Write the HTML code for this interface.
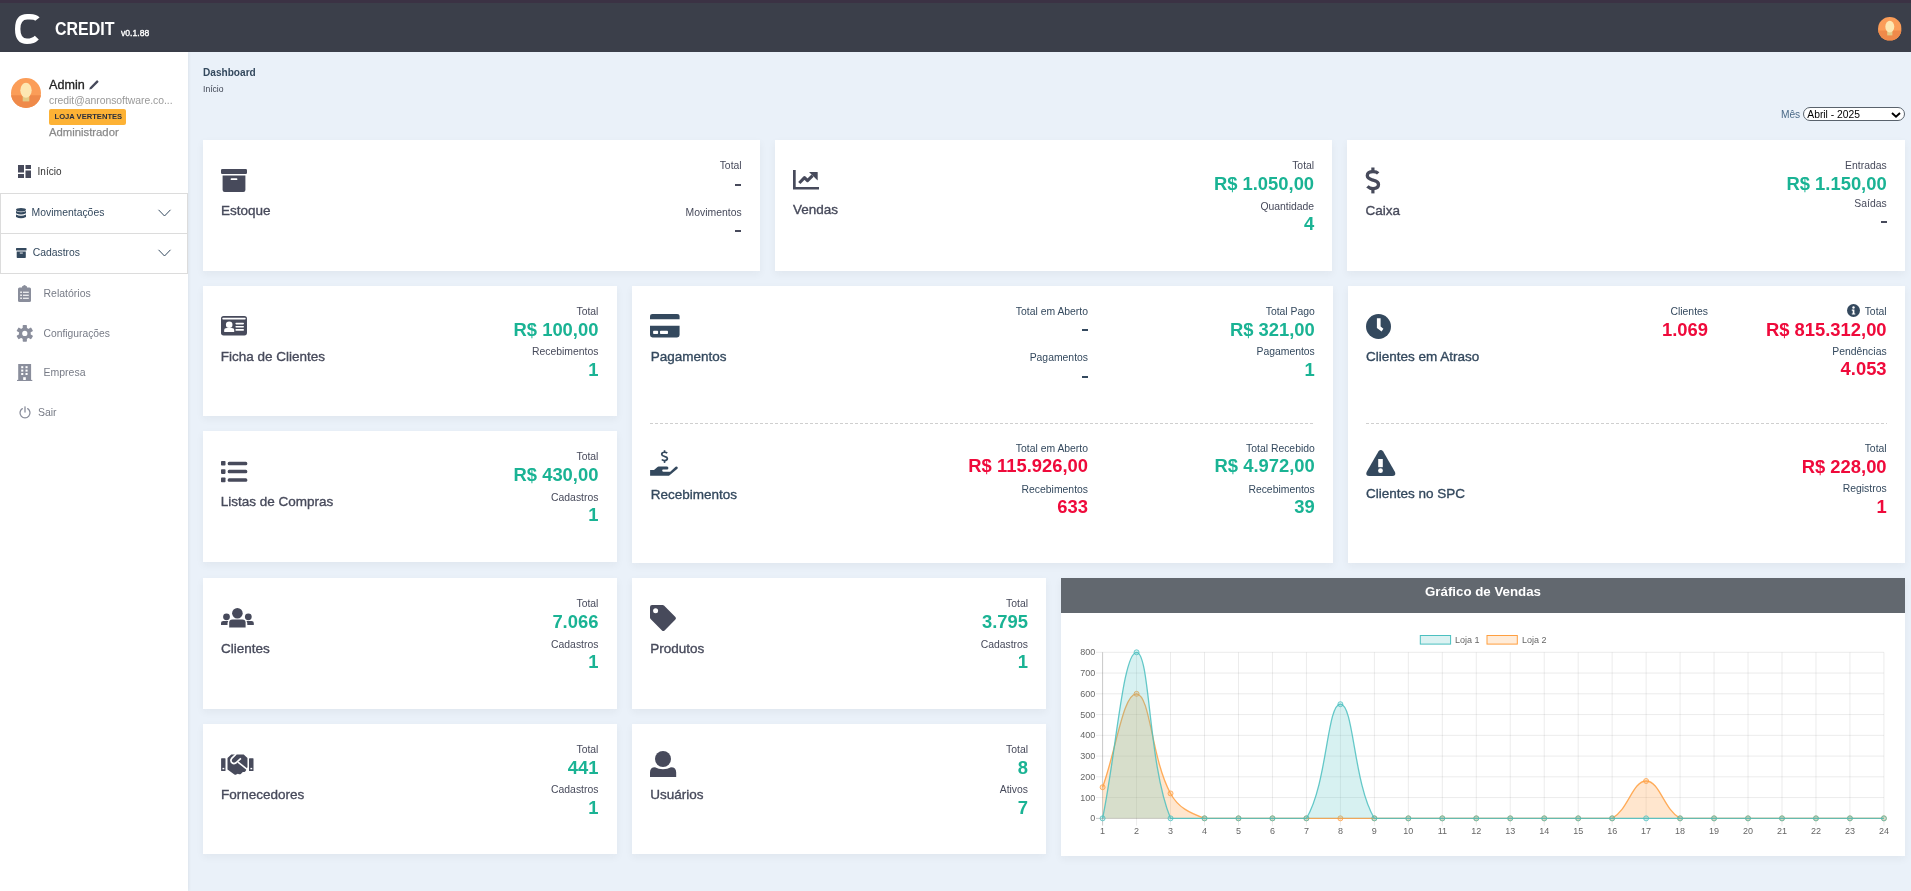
<!DOCTYPE html>
<html><head><meta charset="utf-8"><title>Credit Dashboard</title>
<style>
*{margin:0;padding:0;box-sizing:border-box}
html,body{width:1911px;height:891px;overflow:hidden}
body{position:relative;background:#eaf1f9;font-family:"Liberation Sans",sans-serif}
.t{position:absolute;white-space:nowrap}
.card{position:absolute;background:#fff;box-shadow:0 3px 8px rgba(30,40,40,0.05)}
svg{overflow:visible}
</style></head><body><div style="position:absolute;left:0;top:0;width:1911px;height:891px;will-change:transform">
<div style="position:absolute;left:0px;top:0px;width:1911px;height:52px;background:#3b3f4a;"></div>
<div style="position:absolute;left:0px;top:0px;width:1911px;height:3px;background:#3b3244;"></div>
<svg style="position:absolute;left:0px;top:0px" width="50" height="52" viewBox="0 0 50 52"><path d="M37.4 19.2 C35.2 16.2 31.8 16.8 27.2 16.8 C20.3 16.8 17.7 22 17.7 29 C17.7 36.5 20.6 41.3 27 41.3 C31.6 41.3 34.6 40 36.8 37.6" fill="none" stroke="#fff" stroke-width="5.4"/></svg>
<div class="t" style="left:55px;top:17px;font-size:19px;line-height:24px;color:#fff;font-weight:700;transform:scaleX(0.84);transform-origin:0 0">CREDIT</div>
<div class="t" style="left:121.00px;top:28.00px;font-size:8.6px;line-height:10px;color:#fff;-webkit-text-stroke:0.35px #fff">v0.1.88</div>
<svg style="position:absolute;left:1878.2px;top:16.55px" width="23.6" height="23.6" viewBox="0 0 23.6 23.6"><defs><clipPath id="c1890"><circle cx="11.8" cy="11.8" r="11.8"/></clipPath></defs><g clip-path="url(#c1890)"><rect width="23.6" height="23.6" fill="#fb9d58"/><rect y="13.57" width="23.6" height="23.6" fill="#ef8a4a"/><rect x="9.20" y="12.98" width="5.19" height="5.43" fill="#e3cb86"/><ellipse cx="11.8" cy="9.68" rx="4.48" ry="5.90" fill="#fde7b2"/></g></svg>
<div style="position:absolute;left:0px;top:52px;width:188px;height:839px;background:#fff;box-shadow:1px 0 3px rgba(0,0,0,0.06)"></div>
<svg style="position:absolute;left:11px;top:77.9px" width="30" height="30" viewBox="0 0 30 30"><defs><clipPath id="c26"><circle cx="15" cy="15" r="15"/></clipPath></defs><g clip-path="url(#c26)"><rect width="30" height="30" fill="#fb9d58"/><rect y="17.25" width="30" height="30" fill="#ef8a4a"/><rect x="11.70" y="16.50" width="6.60" height="6.90" fill="#e3cb86"/><ellipse cx="15" cy="12.30" rx="5.70" ry="7.50" fill="#fde7b2"/></g></svg>
<div class="t" style="left:49.00px;top:78.00px;font-size:12.6px;line-height:14px;color:#222;-webkit-text-stroke:0.3px #222">Admin</div>
<svg style="position:absolute;left:89px;top:80px" width="10" height="10" viewBox="0 0 10 10"><path d="M0.3 9.6 L0.8 7.4 L7.6 0.6 Q8.1 0.1 8.6 0.6 L9.3 1.3 Q9.8 1.8 9.3 2.3 L2.5 9.1 Z" fill="#474a5b"/></svg>
<div class="t" style="left:49.00px;top:95.00px;font-size:10.4px;line-height:11px;color:#999;letter-spacing:-0.03px">credit@anronsoftware.co...</div>
<div style="position:absolute;left:49px;top:109px;width:77px;height:16px;background:#fdb235;border-radius:2px"></div>
<div class="t" style="left:54.50px;top:112.00px;font-size:7.6px;line-height:9px;color:#2b2f3d;font-weight:700;">LOJA VERTENTES</div>
<div class="t" style="left:49.00px;top:126.00px;font-size:11.3px;line-height:12px;color:#8a8a8a;-webkit-text-stroke:0.25px #8a8a8a">Administrador</div>
<svg style="position:absolute;left:18px;top:165px" width="13" height="13" viewBox="0 0 13 13"><rect x="0" y="0" width="6" height="7.5" fill="#474a5b"/><rect x="0" y="9" width="6" height="4" fill="#474a5b"/><rect x="7.5" y="0" width="5.5" height="4" fill="#474a5b"/><rect x="7.5" y="5.5" width="5.5" height="7.5" fill="#474a5b"/></svg>
<div class="t" style="left:37.60px;top:166.00px;font-size:10px;line-height:11px;color:#333;">Início</div>
<div style="position:absolute;left:0;top:193px;width:188px;height:81px;border:1px solid #dcdcdc;"></div>
<div style="position:absolute;left:0px;top:233px;width:188px;height:1px;background:#dcdcdc;"></div>
<svg style="position:absolute;left:15.7px;top:207.5px" width="10" height="11" viewBox="0 0 10 11"><ellipse cx="5" cy="1.8" rx="5" ry="1.8" fill="#34495e"/><path d="M0 3 Q5 5.6 10 3 V5.2 Q5 7.8 0 5.2 Z" fill="#34495e"/><path d="M0 6.4 Q5 9 10 6.4 V8.9 Q5 11.6 0 8.9 Z" fill="#34495e"/></svg>
<div class="t" style="left:31.60px;top:207.00px;font-size:10.4px;line-height:11px;color:#34495e;">Movimentações</div>
<svg style="position:absolute;left:158px;top:209px" width="13" height="8" viewBox="0 0 13 8"><path d="M0.5 0.8 L6.5 7 L12.5 0.8" fill="none" stroke="#34495e" stroke-width="1"/></svg>
<svg style="position:absolute;left:16px;top:248px" width="11" height="10" viewBox="0 0 11 10"><rect x="0" y="0" width="10.5" height="2.6" rx="0.5" fill="#34495e"/><path d="M0.7 3.4 H9.8 V9.3 Q9.8 10 9.1 10 H1.4 Q0.7 10 0.7 9.3 Z" fill="#34495e"/><rect x="3.8" y="4.6" width="3" height="0.9" fill="#fff"/></svg>
<div class="t" style="left:32.70px;top:247.00px;font-size:10.4px;line-height:11px;color:#34495e;">Cadastros</div>
<svg style="position:absolute;left:158px;top:249px" width="13" height="8" viewBox="0 0 13 8"><path d="M0.5 0.8 L6.5 7 L12.5 0.8" fill="none" stroke="#34495e" stroke-width="1"/></svg>
<svg style="position:absolute;left:18px;top:285px" width="13" height="17" viewBox="0 0 13 17"><path d="M1.5 2.5 H11.5 Q13 2.5 13 4 V15.5 Q13 17 11.5 17 H1.5 Q0 17 0 15.5 V4 Q0 2.5 1.5 2.5 Z" fill="#8a8e9c"/><path d="M4 1.2 H9 V4 H4 Z" fill="#8a8e9c"/><circle cx="6.5" cy="1.5" r="1.5" fill="#8a8e9c"/><rect x="2.3" y="6.5" width="1.5" height="1.5" fill="#fff"/><rect x="5" y="6.7" width="5.8" height="1.1" fill="#fff"/><rect x="2.3" y="9.5" width="1.5" height="1.5" fill="#fff"/><rect x="5" y="9.7" width="5.8" height="1.1" fill="#fff"/><rect x="2.3" y="12.5" width="1.5" height="1.5" fill="#fff"/><rect x="5" y="12.7" width="5.8" height="1.1" fill="#fff"/></svg>
<div class="t" style="left:43.50px;top:287.00px;font-size:10.5px;line-height:12px;color:#777b86;">Relatórios</div>
<svg style="position:absolute;left:16.6px;top:325.1px" width="16" height="17" viewBox="0 0 16 17"><g transform="translate(7.8,8.4)" fill="#8a8e9c"><rect x="-2.1" y="-8.4" width="4.2" height="4.4" rx="0.7" transform="rotate(0)"/><rect x="-2.1" y="-8.4" width="4.2" height="4.4" rx="0.7" transform="rotate(60)"/><rect x="-2.1" y="-8.4" width="4.2" height="4.4" rx="0.7" transform="rotate(120)"/><rect x="-2.1" y="-8.4" width="4.2" height="4.4" rx="0.7" transform="rotate(180)"/><rect x="-2.1" y="-8.4" width="4.2" height="4.4" rx="0.7" transform="rotate(240)"/><rect x="-2.1" y="-8.4" width="4.2" height="4.4" rx="0.7" transform="rotate(300)"/><circle r="5.9"/></g><circle cx="7.8" cy="8.4" r="2.6" fill="#fff"/></svg>
<div class="t" style="left:43.50px;top:328.00px;font-size:10.3px;line-height:11px;color:#777b86;">Configurações</div>
<svg style="position:absolute;left:16.8px;top:363.8px" width="15.3" height="17" viewBox="0 0 15.3 17"><rect x="1.2" y="0" width="12.9" height="16.4" fill="#8a8e9c"/><rect x="0" y="15.9" width="15.3" height="1.1" fill="#8a8e9c"/><rect x="4.2" y="2.2" width="2.1" height="2" fill="#fff"/><rect x="4.2" y="5.6" width="2.1" height="2" fill="#fff"/><rect x="4.2" y="9.0" width="2.1" height="2" fill="#fff"/><rect x="8.5" y="2.2" width="2.1" height="2" fill="#fff"/><rect x="8.5" y="5.6" width="2.1" height="2" fill="#fff"/><rect x="8.5" y="9.0" width="2.1" height="2" fill="#fff"/><rect x="6.2" y="13.2" width="2.6" height="2.8" fill="#fff"/></svg>
<div class="t" style="left:43.50px;top:366.00px;font-size:10.5px;line-height:12px;color:#777b86;">Empresa</div>
<svg style="position:absolute;left:18.5px;top:406px" width="12" height="12.5" viewBox="0 0 12 12.5"><path d="M3.3 2.6 A5 5 0 1 0 8.7 2.6" fill="none" stroke="#8a8e9c" stroke-width="1.3" stroke-linecap="round"/><line x1="6" y1="0.8" x2="6" y2="6" stroke="#8a8e9c" stroke-width="1.3" stroke-linecap="round"/></svg>
<div class="t" style="left:37.90px;top:406.00px;font-size:10.5px;line-height:12px;color:#777b86;">Sair</div>
<div class="t" style="left:203.00px;top:67.00px;font-size:10.1px;line-height:11px;color:#34495e;font-weight:700;">Dashboard</div>
<div class="t" style="left:203.00px;top:84.00px;font-size:8.6px;line-height:10px;color:#3f4553;">Início</div>
<div class="t" style="left:1780.90px;top:109.00px;font-size:10.2px;line-height:11px;color:#4b6a88;">Mês</div>
<div style="position:absolute;left:1803px;top:107px;width:102px;height:14px;border:1px solid #59626c;border-radius:7px;background:#fff"></div>
<div class="t" style="left:1807.30px;top:109.00px;font-size:10.3px;line-height:11px;color:#000;">Abril - 2025</div>
<svg style="position:absolute;left:1891px;top:111.5px" width="10" height="6" viewBox="0 0 10 6"><path d="M1 1 L5 4.8 L9 1" fill="none" stroke="#000" stroke-width="1.9"/></svg>
<div class="card" style="left:203px;top:140px;width:557px;height:131px"></div>
<div class="card" style="left:775px;top:140px;width:557px;height:131px"></div>
<div class="card" style="left:1347px;top:140px;width:558px;height:131px"></div>
<svg style="position:absolute;left:220.5px;top:168.5px" width="26.5" height="23.5" viewBox="0 0 26.5 23.5"><rect x="0" y="0" width="26" height="5" rx="1.2" fill="#474a5b"/><path d="M1.6 6.5 H24.4 V21 Q24.4 23 22.4 23 H3.6 Q1.6 23 1.6 21 Z" fill="#474a5b"/><rect x="9.6" y="9.3" width="6.8" height="1.8" rx="0.9" fill="#fff"/></svg>
<div class="t" style="left:221.00px;top:203.00px;font-size:13.5px;line-height:15px;color:#474a5b;-webkit-text-stroke:0.35px currentColor">Estoque</div>
<div class="t" style="right:1169.40px;text-align:right;top:160.00px;font-size:10.4px;line-height:11px;color:#474a5b;">Total</div>
<div style="position:absolute;left:735.2px;top:183.9px;width:5.8px;height:2.2px;background:#474a5b;"></div>
<div class="t" style="right:1169.40px;text-align:right;top:207.00px;font-size:10.4px;line-height:11px;color:#474a5b;">Movimentos</div>
<div style="position:absolute;left:735.2px;top:229.9px;width:5.8px;height:2.2px;background:#474a5b;"></div>
<svg style="position:absolute;left:793px;top:170px" width="26" height="20" viewBox="0 0 26 20"><path d="M0 0 H2.7 V17 H26 V19.6 H0 Z" fill="#474a5b"/><path d="M6.3 13 L11.5 7.6 L14.5 10.6 L19.6 5.6" fill="none" stroke="#474a5b" stroke-width="3.1" stroke-linejoin="round"/><path d="M16.2 2.2 Q16.2 1.9 16.6 1.9 H24.2 Q24.7 1.9 24.7 2.4 V10 Q24.7 10.4 24.4 10.2 Z" fill="#474a5b"/></svg>
<div class="t" style="left:793.00px;top:202.00px;font-size:13.5px;line-height:15px;color:#474a5b;-webkit-text-stroke:0.35px currentColor">Vendas</div>
<div class="t" style="right:596.90px;text-align:right;top:160.00px;font-size:10.4px;line-height:11px;color:#474a5b;">Total</div>
<div class="t" style="right:596.90px;text-align:right;top:173.00px;font-size:18.4px;line-height:21px;color:#1ab394;font-weight:700;">R$ 1.050,00</div>
<div class="t" style="right:596.90px;text-align:right;top:201.00px;font-size:10.4px;line-height:11px;color:#474a5b;">Quantidade</div>
<div class="t" style="right:596.90px;text-align:right;top:213.00px;font-size:18.4px;line-height:21px;color:#1ab394;font-weight:700;">4</div>
<svg style="position:absolute;left:1365px;top:166.5px" width="16" height="27" viewBox="0 0 16 27"><path d="M13.2 6.4 Q11.5 4.6 8 4.6 Q2.3 4.6 2.3 8.6 Q2.3 11.6 7 12.8 L9 13.4 Q13.5 14.6 13.5 17.6 Q13.5 21.6 8 21.6 Q4.6 21.6 2.4 19.4" fill="none" stroke="#474a5b" stroke-width="3.3"/><rect x="6.3" y="0.5" width="3.2" height="5" fill="#474a5b"/><rect x="6.3" y="21" width="3.2" height="5.4" fill="#474a5b"/></svg>
<div class="t" style="left:1365.50px;top:203.00px;font-size:13.5px;line-height:15px;color:#474a5b;-webkit-text-stroke:0.35px currentColor">Caixa</div>
<div class="t" style="right:24.30px;text-align:right;top:160.00px;font-size:10.4px;line-height:11px;color:#474a5b;">Entradas</div>
<div class="t" style="right:24.30px;text-align:right;top:173.00px;font-size:18.4px;line-height:21px;color:#1ab394;font-weight:700;">R$ 1.150,00</div>
<div class="t" style="right:24.30px;text-align:right;top:198.00px;font-size:10.4px;line-height:11px;color:#474a5b;">Saídas</div>
<div style="position:absolute;left:1880.8px;top:220.8px;width:5.8px;height:2.2px;background:#474a5b;"></div>
<div class="card" style="left:203px;top:286px;width:414px;height:130px"></div>
<div class="card" style="left:203px;top:431px;width:414px;height:131px"></div>
<div class="card" style="left:632px;top:286px;width:701px;height:277px"></div>
<div class="card" style="left:1348px;top:286px;width:557px;height:277px"></div>
<svg style="position:absolute;left:220.5px;top:316.3px" width="26.2" height="19.5" viewBox="0 0 26.2 19.5"><rect x="0" y="0" width="26" height="19.4" rx="2.6" fill="#474a5b"/><rect x="1.3" y="1.7" width="23.4" height="1.9" rx="0.8" fill="#fff"/><circle cx="8.2" cy="8.7" r="3.3" fill="#fff"/><path d="M3.2 16 V14.3 Q3.2 12 5.8 12 H10.6 Q13.2 12 13.2 14.3 V16 Z" fill="#fff"/><rect x="14.4" y="6.7" width="8.6" height="1.7" rx="0.8" fill="#fff"/><rect x="14.4" y="9.9" width="8.6" height="1.7" rx="0.8" fill="#fff"/><rect x="14.4" y="13.1" width="8.6" height="1.7" rx="0.8" fill="#fff"/></svg>
<div class="t" style="left:220.70px;top:349.00px;font-size:13.5px;line-height:15px;color:#474a5b;-webkit-text-stroke:0.35px currentColor">Ficha de Clientes</div>
<div class="t" style="right:1312.60px;text-align:right;top:306.00px;font-size:10.4px;line-height:11px;color:#474a5b;">Total</div>
<div class="t" style="right:1312.60px;text-align:right;top:319.00px;font-size:18.4px;line-height:21px;color:#1ab394;font-weight:700;">R$ 100,00</div>
<div class="t" style="right:1312.60px;text-align:right;top:346.00px;font-size:10.4px;line-height:11px;color:#474a5b;">Recebimentos</div>
<div class="t" style="right:1312.60px;text-align:right;top:359.00px;font-size:18.4px;line-height:21px;color:#1ab394;font-weight:700;">1</div>
<svg style="position:absolute;left:220.5px;top:460.5px" width="26.5" height="21.5" viewBox="0 0 26.5 21.5"><rect x="0" y="0" width="4.5" height="4.5" rx="0.8" fill="#474a5b"/><rect x="0" y="8.2" width="4.5" height="4.7" rx="0.8" fill="#474a5b"/><rect x="0" y="16.5" width="4.5" height="4.7" rx="0.8" fill="#474a5b"/><rect x="6.7" y="0.7" width="19.6" height="3.5" rx="1.5" fill="#474a5b"/><rect x="6.7" y="8.7" width="19.6" height="3.6" rx="1.5" fill="#474a5b"/><rect x="6.7" y="17.2" width="19.6" height="3.5" rx="1.5" fill="#474a5b"/></svg>
<div class="t" style="left:220.70px;top:494.00px;font-size:13.5px;line-height:15px;color:#474a5b;-webkit-text-stroke:0.35px currentColor">Listas de Compras</div>
<div class="t" style="right:1312.60px;text-align:right;top:451.00px;font-size:10.4px;line-height:11px;color:#474a5b;">Total</div>
<div class="t" style="right:1312.60px;text-align:right;top:464.00px;font-size:18.4px;line-height:21px;color:#1ab394;font-weight:700;">R$ 430,00</div>
<div class="t" style="right:1312.60px;text-align:right;top:492.00px;font-size:10.4px;line-height:11px;color:#474a5b;">Cadastros</div>
<div class="t" style="right:1312.60px;text-align:right;top:504.00px;font-size:18.4px;line-height:21px;color:#1ab394;font-weight:700;">1</div>
<svg style="position:absolute;left:650px;top:314.3px" width="29.6" height="23.4" viewBox="0 0 29.6 23.4"><path d="M2.5 0 H27.1 Q29.6 0 29.6 2.5 V5.3 H0 V2.5 Q0 0 2.5 0 Z" fill="#34495e"/><path d="M0 11.7 H29.6 V21 Q29.6 23.4 27.1 23.4 H2.5 Q0 23.4 0 21 Z" fill="#34495e"/><rect x="3.1" y="16.7" width="5" height="3.4" rx="0.8" fill="#fff"/><rect x="10" y="16.7" width="8" height="3.4" rx="0.8" fill="#fff"/></svg>
<div class="t" style="left:650.80px;top:349.00px;font-size:13.5px;line-height:15px;color:#34495e;-webkit-text-stroke:0.35px currentColor">Pagamentos</div>
<div class="t" style="right:823.00px;text-align:right;top:306.00px;font-size:10.4px;line-height:11px;color:#34495e;">Total em Aberto</div>
<div style="position:absolute;left:1082px;top:329.2px;width:5.8px;height:2.2px;background:#34495e;"></div>
<div class="t" style="right:823.00px;text-align:right;top:352.00px;font-size:10.4px;line-height:11px;color:#34495e;">Pagamentos</div>
<div style="position:absolute;left:1082px;top:375.6px;width:5.8px;height:2.2px;background:#34495e;"></div>
<div class="t" style="right:596.20px;text-align:right;top:306.00px;font-size:10.4px;line-height:11px;color:#34495e;">Total Pago</div>
<div class="t" style="right:596.20px;text-align:right;top:319.00px;font-size:18.4px;line-height:21px;color:#1ab394;font-weight:700;">R$ 321,00</div>
<div class="t" style="right:596.20px;text-align:right;top:346.00px;font-size:10.4px;line-height:11px;color:#34495e;">Pagamentos</div>
<div class="t" style="right:596.20px;text-align:right;top:359.00px;font-size:18.4px;line-height:21px;color:#1ab394;font-weight:700;">1</div>
<svg style="position:absolute;left:650px;top:423px" width="665" height="1" viewBox="0 0 665 1"><line x1="0" y1="0.5" x2="665" y2="0.5" stroke="#cfcfcf" stroke-width="1" stroke-dasharray="3 2"/></svg>
<svg style="position:absolute;left:650px;top:450px" width="28" height="26" viewBox="0 0 28 26"><g transform="translate(10.6,0) scale(0.5,0.49)"><path d="M13.2 6.4 Q11.5 4.6 8 4.6 Q2.3 4.6 2.3 8.6 Q2.3 11.6 7 12.8 L9 13.4 Q13.5 14.6 13.5 17.6 Q13.5 21.6 8 21.6 Q4.6 21.6 2.4 19.4" fill="none" stroke="#34495e" stroke-width="3.5"/><rect x="6.3" y="0.5" width="3.2" height="5" fill="#34495e"/><rect x="6.3" y="21" width="3.2" height="5.4" fill="#34495e"/></g><path d="M0.1 20 H4 L7.2 17.2 Q7.9 16.4 8.8 16.4 H17 Q18.4 16.4 18.4 18 Q18.4 19.6 17 19.6 H13 Q12.2 19.6 12.2 20.7 Q12.4 21.7 13.5 21.7 H20.2 L25.6 16.8 Q26.6 16 27.5 16.9 Q28.2 17.8 27.4 18.7 L19 25.85 H0.1 Z" fill="#34495e"/></svg>
<div class="t" style="left:650.80px;top:487.00px;font-size:13.5px;line-height:15px;color:#34495e;-webkit-text-stroke:0.35px currentColor">Recebimentos</div>
<div class="t" style="right:823.00px;text-align:right;top:443.00px;font-size:10.4px;line-height:11px;color:#34495e;">Total em Aberto</div>
<div class="t" style="right:823.00px;text-align:right;top:455.00px;font-size:18.4px;line-height:21px;color:#ef0a3b;font-weight:700;">R$ 115.926,00</div>
<div class="t" style="right:823.00px;text-align:right;top:484.00px;font-size:10.4px;line-height:11px;color:#34495e;">Recebimentos</div>
<div class="t" style="right:823.00px;text-align:right;top:496.00px;font-size:18.4px;line-height:21px;color:#ef0a3b;font-weight:700;">633</div>
<div class="t" style="right:596.20px;text-align:right;top:443.00px;font-size:10.4px;line-height:11px;color:#34495e;">Total Recebido</div>
<div class="t" style="right:596.20px;text-align:right;top:455.00px;font-size:18.4px;line-height:21px;color:#1ab394;font-weight:700;">R$ 4.972,00</div>
<div class="t" style="right:596.20px;text-align:right;top:484.00px;font-size:10.4px;line-height:11px;color:#34495e;">Recebimentos</div>
<div class="t" style="right:596.20px;text-align:right;top:496.00px;font-size:18.4px;line-height:21px;color:#1ab394;font-weight:700;">39</div>
<svg style="position:absolute;left:1366px;top:313.5px" width="25" height="25" viewBox="0 0 25 25"><circle cx="12.5" cy="12.5" r="12.5" fill="#34495e"/><path d="M10.9 4.3 H14.6 V12.6 L17.4 14.8 L15.6 17.4 L10.9 13.9 Z" fill="#fff"/></svg>
<div class="t" style="left:1366.00px;top:349.00px;font-size:13.5px;line-height:15px;color:#34495e;-webkit-text-stroke:0.35px currentColor">Clientes em Atraso</div>
<div class="t" style="right:203.00px;text-align:right;top:306.00px;font-size:10.4px;line-height:11px;color:#34495e;">Clientes</div>
<div class="t" style="right:203.00px;text-align:right;top:319.00px;font-size:18.4px;line-height:21px;color:#ef0a3b;font-weight:700;">1.069</div>
<svg style="position:absolute;left:1847px;top:304px" width="13" height="13" viewBox="0 0 13 13"><circle cx="6.5" cy="6.5" r="6.5" fill="#34495e"/><circle cx="6.5" cy="3.5" r="1.2" fill="#fff"/><path d="M4.8 5.6 H7.4 V9.4 H8.3 V10.6 H4.8 V9.4 H5.7 V6.8 H4.8 Z" fill="#fff"/></svg>
<div class="t" style="right:24.40px;text-align:right;top:306.00px;font-size:10.4px;line-height:11px;color:#34495e;">Total</div>
<div class="t" style="right:24.40px;text-align:right;top:319.00px;font-size:18.4px;line-height:21px;color:#ef0a3b;font-weight:700;">R$ 815.312,00</div>
<div class="t" style="right:24.40px;text-align:right;top:346.00px;font-size:10.4px;line-height:11px;color:#34495e;">Pendências</div>
<div class="t" style="right:24.40px;text-align:right;top:358.00px;font-size:18.4px;line-height:21px;color:#ef0a3b;font-weight:700;">4.053</div>
<svg style="position:absolute;left:1366px;top:423px" width="521" height="1" viewBox="0 0 521 1"><line x1="0" y1="0.5" x2="521" y2="0.5" stroke="#cfcfcf" stroke-width="1" stroke-dasharray="3 2"/></svg>
<svg style="position:absolute;left:1365.5px;top:449.8px" width="29.6" height="26.2" viewBox="0 0 29.6 26.2"><path d="M12.4 1.4 Q14.8 -1.2 17.2 1.4 L29 22 Q30.4 26 26.2 26 H3.4 Q-0.8 26 0.6 22 Z" fill="#34495e"/><rect x="12.2" y="9" width="4.6" height="8.2" fill="#fff"/><circle cx="14.5" cy="20.7" r="2.4" fill="#fff"/></svg>
<div class="t" style="left:1366.00px;top:486.00px;font-size:13.5px;line-height:15px;color:#34495e;-webkit-text-stroke:0.35px currentColor">Clientes no SPC</div>
<div class="t" style="right:24.40px;text-align:right;top:443.00px;font-size:10.4px;line-height:11px;color:#34495e;">Total</div>
<div class="t" style="right:24.40px;text-align:right;top:456.00px;font-size:18.4px;line-height:21px;color:#ef0a3b;font-weight:700;">R$ 228,00</div>
<div class="t" style="right:24.40px;text-align:right;top:483.00px;font-size:10.4px;line-height:11px;color:#34495e;">Registros</div>
<div class="t" style="right:24.40px;text-align:right;top:496.00px;font-size:18.4px;line-height:21px;color:#ef0a3b;font-weight:700;">1</div>
<div class="card" style="left:203px;top:578px;width:414px;height:131px"></div>
<div class="card" style="left:632px;top:578px;width:414px;height:131px"></div>
<div class="card" style="left:203px;top:724px;width:414px;height:130px"></div>
<div class="card" style="left:632px;top:724px;width:414px;height:130px"></div>
<svg style="position:absolute;left:220.5px;top:608px" width="33" height="20" viewBox="0 0 33 20"><circle cx="16.4" cy="5.3" r="5.3" fill="#474a5b"/><path d="M8.2 19.6 V14.5 Q8.2 11.4 11.5 11.4 H21.3 Q24.6 11.4 24.6 14.5 V19.6 Z" fill="#474a5b"/><circle cx="5.5" cy="8.8" r="3.4" fill="#474a5b"/><path d="M0 17.1 V15.1 Q0 12.9 2.3 12.9 H7.3 Q6.5 14 6.5 15.5 V17.1 Z" fill="#474a5b"/><circle cx="27.3" cy="8.8" r="3.4" fill="#474a5b"/><path d="M32.8 17.1 V15.1 Q32.8 12.9 30.5 12.9 H25.5 Q26.3 14 26.3 15.5 V17.1 Z" fill="#474a5b"/></svg>
<div class="t" style="left:221.00px;top:641.00px;font-size:13.5px;line-height:15px;color:#474a5b;-webkit-text-stroke:0.35px currentColor">Clientes</div>
<div class="t" style="right:1312.60px;text-align:right;top:598.00px;font-size:10.4px;line-height:11px;color:#474a5b;">Total</div>
<div class="t" style="right:1312.60px;text-align:right;top:611.00px;font-size:18.4px;line-height:21px;color:#1ab394;font-weight:700;">7.066</div>
<div class="t" style="right:1312.60px;text-align:right;top:639.00px;font-size:10.4px;line-height:11px;color:#474a5b;">Cadastros</div>
<div class="t" style="right:1312.60px;text-align:right;top:651.00px;font-size:18.4px;line-height:21px;color:#1ab394;font-weight:700;">1</div>
<svg style="position:absolute;left:650px;top:605px" width="27" height="27" viewBox="0 0 27 27"><path d="M2 0 H12.6 Q13.4 0 14 0.6 L25.4 12 Q26.6 13.3 25.4 14.6 L14.6 25.4 Q13.3 26.6 12 25.4 L0.6 14 Q0 13.4 0 12.6 V2 Q0 0 2 0 Z" fill="#474a5b"/><circle cx="5.6" cy="5.8" r="2.5" fill="#fff"/></svg>
<div class="t" style="left:650.30px;top:641.00px;font-size:13.5px;line-height:15px;color:#474a5b;-webkit-text-stroke:0.35px currentColor">Produtos</div>
<div class="t" style="right:883.00px;text-align:right;top:598.00px;font-size:10.4px;line-height:11px;color:#474a5b;">Total</div>
<div class="t" style="right:883.00px;text-align:right;top:611.00px;font-size:18.4px;line-height:21px;color:#1ab394;font-weight:700;">3.795</div>
<div class="t" style="right:883.00px;text-align:right;top:639.00px;font-size:10.4px;line-height:11px;color:#474a5b;">Cadastros</div>
<div class="t" style="right:883.00px;text-align:right;top:651.00px;font-size:18.4px;line-height:21px;color:#1ab394;font-weight:700;">1</div>
<svg style="position:absolute;left:220.5px;top:753.5px" width="33" height="21" viewBox="0 0 33 21"><rect x="0.1" y="4.2" width="4.4" height="12.8" rx="0.6" fill="#474a5b"/><rect x="28" y="4.2" width="4.5" height="12.8" rx="0.6" fill="#474a5b"/><rect x="1.5" y="13.9" width="1.8" height="1.4" fill="#fff"/><rect x="29.4" y="13.9" width="1.8" height="1.4" fill="#fff"/><path d="M6.5 3.95 L10.3 0.42 H22.7 L26.46 3.95 V13.1 L25.2 16 Q24.6 17.6 23.5 18 H21.8 L19.8 20 Q19 20.6 18 20.2 L16.9 19.7 L15.2 20.5 Q14.3 20.9 13.4 20.4 L6.5 15.4 Z" fill="#474a5b"/><path d="M15.2 0 L10.7 4.4 Q9.3 6 10.3 8 Q12.2 10.6 15 8.8 L19.9 4.4" fill="none" stroke="#fff" stroke-width="1.7"/><path d="M17 8.1 L26.8 15.8" fill="none" stroke="#fff" stroke-width="1.6"/></svg>
<div class="t" style="left:221.00px;top:787.00px;font-size:13.5px;line-height:15px;color:#474a5b;-webkit-text-stroke:0.35px currentColor">Fornecedores</div>
<div class="t" style="right:1312.60px;text-align:right;top:744.00px;font-size:10.4px;line-height:11px;color:#474a5b;">Total</div>
<div class="t" style="right:1312.60px;text-align:right;top:757.00px;font-size:18.4px;line-height:21px;color:#1ab394;font-weight:700;">441</div>
<div class="t" style="right:1312.60px;text-align:right;top:784.00px;font-size:10.4px;line-height:11px;color:#474a5b;">Cadastros</div>
<div class="t" style="right:1312.60px;text-align:right;top:797.00px;font-size:18.4px;line-height:21px;color:#1ab394;font-weight:700;">1</div>
<svg style="position:absolute;left:650px;top:751px" width="26.4" height="26.4" viewBox="0 0 26.4 26.4"><circle cx="13" cy="8" r="8" fill="#474a5b"/><path d="M0 26 V21.5 Q0 16.2 5 16.2 Q8.5 18.2 13 18.2 Q17.5 18.2 21 16.2 Q26.2 16.2 26.2 21.5 V26 Z" fill="#474a5b"/></svg>
<div class="t" style="left:650.30px;top:787.00px;font-size:13.5px;line-height:15px;color:#474a5b;-webkit-text-stroke:0.35px currentColor">Usuários</div>
<div class="t" style="right:883.00px;text-align:right;top:744.00px;font-size:10.4px;line-height:11px;color:#474a5b;">Total</div>
<div class="t" style="right:883.00px;text-align:right;top:757.00px;font-size:18.4px;line-height:21px;color:#1ab394;font-weight:700;">8</div>
<div class="t" style="right:883.00px;text-align:right;top:784.00px;font-size:10.4px;line-height:11px;color:#474a5b;">Ativos</div>
<div class="t" style="right:883.00px;text-align:right;top:797.00px;font-size:18.4px;line-height:21px;color:#1ab394;font-weight:700;">7</div>
<div class="card" style="left:1061px;top:578px;width:844px;height:278px"></div>
<div style="position:absolute;left:1061px;top:578px;width:844px;height:35px;background:#62686f;"></div>
<div class="t" style="left:1283.00px;width:400px;text-align:center;top:584.00px;font-size:13.3px;line-height:15px;color:#fff;font-weight:700;">Gráfico de Vendas</div>
<svg style="position:absolute;left:1061px;top:613px" width="844" height="243" viewBox="0 0 844 243"><line x1="35.00" y1="205.35" x2="822.91" y2="205.35" stroke="rgba(0,0,0,0.22)" stroke-width="1"/><text x="34.30" y="208.45" font-family="Liberation Sans" font-size="9" fill="#666" text-anchor="end">0</text><line x1="35.00" y1="184.59" x2="822.91" y2="184.59" stroke="rgba(0,0,0,0.08)" stroke-width="1"/><text x="34.30" y="187.69" font-family="Liberation Sans" font-size="9" fill="#666" text-anchor="end">100</text><line x1="35.00" y1="163.84" x2="822.91" y2="163.84" stroke="rgba(0,0,0,0.08)" stroke-width="1"/><text x="34.30" y="166.94" font-family="Liberation Sans" font-size="9" fill="#666" text-anchor="end">200</text><line x1="35.00" y1="143.08" x2="822.91" y2="143.08" stroke="rgba(0,0,0,0.08)" stroke-width="1"/><text x="34.30" y="146.18" font-family="Liberation Sans" font-size="9" fill="#666" text-anchor="end">300</text><line x1="35.00" y1="122.33" x2="822.91" y2="122.33" stroke="rgba(0,0,0,0.08)" stroke-width="1"/><text x="34.30" y="125.43" font-family="Liberation Sans" font-size="9" fill="#666" text-anchor="end">400</text><line x1="35.00" y1="101.57" x2="822.91" y2="101.57" stroke="rgba(0,0,0,0.08)" stroke-width="1"/><text x="34.30" y="104.67" font-family="Liberation Sans" font-size="9" fill="#666" text-anchor="end">500</text><line x1="35.00" y1="80.81" x2="822.91" y2="80.81" stroke="rgba(0,0,0,0.08)" stroke-width="1"/><text x="34.30" y="83.91" font-family="Liberation Sans" font-size="9" fill="#666" text-anchor="end">600</text><line x1="35.00" y1="60.06" x2="822.91" y2="60.06" stroke="rgba(0,0,0,0.08)" stroke-width="1"/><text x="34.30" y="63.16" font-family="Liberation Sans" font-size="9" fill="#666" text-anchor="end">700</text><line x1="35.00" y1="39.30" x2="822.91" y2="39.30" stroke="rgba(0,0,0,0.08)" stroke-width="1"/><text x="34.30" y="42.40" font-family="Liberation Sans" font-size="9" fill="#666" text-anchor="end">800</text><line x1="41.60" y1="39.30" x2="41.60" y2="212.60" stroke="rgba(0,0,0,0.22)" stroke-width="1"/><text x="41.60" y="220.80" font-family="Liberation Sans" font-size="9" fill="#666" text-anchor="middle">1</text><line x1="75.57" y1="39.30" x2="75.57" y2="212.60" stroke="rgba(0,0,0,0.08)" stroke-width="1"/><text x="75.57" y="220.80" font-family="Liberation Sans" font-size="9" fill="#666" text-anchor="middle">2</text><line x1="109.54" y1="39.30" x2="109.54" y2="212.60" stroke="rgba(0,0,0,0.08)" stroke-width="1"/><text x="109.54" y="220.80" font-family="Liberation Sans" font-size="9" fill="#666" text-anchor="middle">3</text><line x1="143.51" y1="39.30" x2="143.51" y2="212.60" stroke="rgba(0,0,0,0.08)" stroke-width="1"/><text x="143.51" y="220.80" font-family="Liberation Sans" font-size="9" fill="#666" text-anchor="middle">4</text><line x1="177.48" y1="39.30" x2="177.48" y2="212.60" stroke="rgba(0,0,0,0.08)" stroke-width="1"/><text x="177.48" y="220.80" font-family="Liberation Sans" font-size="9" fill="#666" text-anchor="middle">5</text><line x1="211.45" y1="39.30" x2="211.45" y2="212.60" stroke="rgba(0,0,0,0.08)" stroke-width="1"/><text x="211.45" y="220.80" font-family="Liberation Sans" font-size="9" fill="#666" text-anchor="middle">6</text><line x1="245.42" y1="39.30" x2="245.42" y2="212.60" stroke="rgba(0,0,0,0.08)" stroke-width="1"/><text x="245.42" y="220.80" font-family="Liberation Sans" font-size="9" fill="#666" text-anchor="middle">7</text><line x1="279.39" y1="39.30" x2="279.39" y2="212.60" stroke="rgba(0,0,0,0.08)" stroke-width="1"/><text x="279.39" y="220.80" font-family="Liberation Sans" font-size="9" fill="#666" text-anchor="middle">8</text><line x1="313.36" y1="39.30" x2="313.36" y2="212.60" stroke="rgba(0,0,0,0.08)" stroke-width="1"/><text x="313.36" y="220.80" font-family="Liberation Sans" font-size="9" fill="#666" text-anchor="middle">9</text><line x1="347.33" y1="39.30" x2="347.33" y2="212.60" stroke="rgba(0,0,0,0.08)" stroke-width="1"/><text x="347.33" y="220.80" font-family="Liberation Sans" font-size="9" fill="#666" text-anchor="middle">10</text><line x1="381.30" y1="39.30" x2="381.30" y2="212.60" stroke="rgba(0,0,0,0.08)" stroke-width="1"/><text x="381.30" y="220.80" font-family="Liberation Sans" font-size="9" fill="#666" text-anchor="middle">11</text><line x1="415.27" y1="39.30" x2="415.27" y2="212.60" stroke="rgba(0,0,0,0.08)" stroke-width="1"/><text x="415.27" y="220.80" font-family="Liberation Sans" font-size="9" fill="#666" text-anchor="middle">12</text><line x1="449.24" y1="39.30" x2="449.24" y2="212.60" stroke="rgba(0,0,0,0.08)" stroke-width="1"/><text x="449.24" y="220.80" font-family="Liberation Sans" font-size="9" fill="#666" text-anchor="middle">13</text><line x1="483.21" y1="39.30" x2="483.21" y2="212.60" stroke="rgba(0,0,0,0.08)" stroke-width="1"/><text x="483.21" y="220.80" font-family="Liberation Sans" font-size="9" fill="#666" text-anchor="middle">14</text><line x1="517.18" y1="39.30" x2="517.18" y2="212.60" stroke="rgba(0,0,0,0.08)" stroke-width="1"/><text x="517.18" y="220.80" font-family="Liberation Sans" font-size="9" fill="#666" text-anchor="middle">15</text><line x1="551.15" y1="39.30" x2="551.15" y2="212.60" stroke="rgba(0,0,0,0.08)" stroke-width="1"/><text x="551.15" y="220.80" font-family="Liberation Sans" font-size="9" fill="#666" text-anchor="middle">16</text><line x1="585.12" y1="39.30" x2="585.12" y2="212.60" stroke="rgba(0,0,0,0.08)" stroke-width="1"/><text x="585.12" y="220.80" font-family="Liberation Sans" font-size="9" fill="#666" text-anchor="middle">17</text><line x1="619.09" y1="39.30" x2="619.09" y2="212.60" stroke="rgba(0,0,0,0.08)" stroke-width="1"/><text x="619.09" y="220.80" font-family="Liberation Sans" font-size="9" fill="#666" text-anchor="middle">18</text><line x1="653.06" y1="39.30" x2="653.06" y2="212.60" stroke="rgba(0,0,0,0.08)" stroke-width="1"/><text x="653.06" y="220.80" font-family="Liberation Sans" font-size="9" fill="#666" text-anchor="middle">19</text><line x1="687.03" y1="39.30" x2="687.03" y2="212.60" stroke="rgba(0,0,0,0.08)" stroke-width="1"/><text x="687.03" y="220.80" font-family="Liberation Sans" font-size="9" fill="#666" text-anchor="middle">20</text><line x1="721.00" y1="39.30" x2="721.00" y2="212.60" stroke="rgba(0,0,0,0.08)" stroke-width="1"/><text x="721.00" y="220.80" font-family="Liberation Sans" font-size="9" fill="#666" text-anchor="middle">21</text><line x1="754.97" y1="39.30" x2="754.97" y2="212.60" stroke="rgba(0,0,0,0.08)" stroke-width="1"/><text x="754.97" y="220.80" font-family="Liberation Sans" font-size="9" fill="#666" text-anchor="middle">22</text><line x1="788.94" y1="39.30" x2="788.94" y2="212.60" stroke="rgba(0,0,0,0.08)" stroke-width="1"/><text x="788.94" y="220.80" font-family="Liberation Sans" font-size="9" fill="#666" text-anchor="middle">23</text><line x1="822.91" y1="39.30" x2="822.91" y2="212.60" stroke="rgba(0,0,0,0.08)" stroke-width="1"/><text x="822.91" y="220.80" font-family="Liberation Sans" font-size="9" fill="#666" text-anchor="middle">24</text><path d="M1102.60 787.22 C1116.19 749.85 1123.37 692.60 1136.57 693.81 C1150.55 695.09 1151.13 757.86 1170.54 793.44 C1178.31 807.68 1189.47 812.83 1204.51 818.35 C1216.64 818.35 1224.89 818.35 1238.48 818.35 C1252.07 818.35 1258.86 818.35 1272.45 818.35 C1286.04 818.35 1292.83 818.35 1306.42 818.35 C1320.01 818.35 1326.80 818.35 1340.39 818.35 C1353.98 818.35 1360.77 818.35 1374.36 818.35 C1387.95 818.35 1394.74 818.35 1408.33 818.35 C1421.92 818.35 1428.71 818.35 1442.30 818.35 C1455.89 818.35 1462.68 818.35 1476.27 818.35 C1489.86 818.35 1496.65 818.35 1510.24 818.35 C1523.83 818.35 1530.62 818.35 1544.21 818.35 C1557.80 818.35 1564.59 818.35 1578.18 818.35 C1591.77 818.35 1601.22 818.35 1612.15 818.35 C1628.40 809.42 1632.53 780.99 1646.12 780.99 C1659.71 780.99 1663.84 809.42 1680.09 818.35 C1691.02 818.35 1700.47 818.35 1714.06 818.35 C1727.65 818.35 1734.44 818.35 1748.03 818.35 C1761.62 818.35 1768.41 818.35 1782.00 818.35 C1795.59 818.35 1802.38 818.35 1815.97 818.35 C1829.56 818.35 1836.35 818.35 1849.94 818.35 C1863.53 818.35 1870.32 818.35 1883.91 818.35 L1883.91 818.35 L1102.60 818.35 Z" transform="translate(-1061,-613)" fill="rgba(255,159,64,0.26)"/><path d="M1102.60 787.22 C1116.19 749.85 1123.37 692.60 1136.57 693.81 C1150.55 695.09 1151.13 757.86 1170.54 793.44 C1178.31 807.68 1189.47 812.83 1204.51 818.35 C1216.64 818.35 1224.89 818.35 1238.48 818.35 C1252.07 818.35 1258.86 818.35 1272.45 818.35 C1286.04 818.35 1292.83 818.35 1306.42 818.35 C1320.01 818.35 1326.80 818.35 1340.39 818.35 C1353.98 818.35 1360.77 818.35 1374.36 818.35 C1387.95 818.35 1394.74 818.35 1408.33 818.35 C1421.92 818.35 1428.71 818.35 1442.30 818.35 C1455.89 818.35 1462.68 818.35 1476.27 818.35 C1489.86 818.35 1496.65 818.35 1510.24 818.35 C1523.83 818.35 1530.62 818.35 1544.21 818.35 C1557.80 818.35 1564.59 818.35 1578.18 818.35 C1591.77 818.35 1601.22 818.35 1612.15 818.35 C1628.40 809.42 1632.53 780.99 1646.12 780.99 C1659.71 780.99 1663.84 809.42 1680.09 818.35 C1691.02 818.35 1700.47 818.35 1714.06 818.35 C1727.65 818.35 1734.44 818.35 1748.03 818.35 C1761.62 818.35 1768.41 818.35 1782.00 818.35 C1795.59 818.35 1802.38 818.35 1815.97 818.35 C1829.56 818.35 1836.35 818.35 1849.94 818.35 C1863.53 818.35 1870.32 818.35 1883.91 818.35" transform="translate(-1061,-613)" fill="none" stroke="rgb(255,159,64)" stroke-width="1.3" stroke-opacity="0.85"/><circle cx="41.60" cy="174.22" r="2.5" fill="rgba(255,159,64,0.26)" stroke="rgb(255,159,64)" stroke-width="0.9" stroke-opacity="0.85"/><circle cx="75.57" cy="80.81" r="2.5" fill="rgba(255,159,64,0.26)" stroke="rgb(255,159,64)" stroke-width="0.9" stroke-opacity="0.85"/><circle cx="109.54" cy="180.44" r="2.5" fill="rgba(255,159,64,0.26)" stroke="rgb(255,159,64)" stroke-width="0.9" stroke-opacity="0.85"/><circle cx="143.51" cy="205.35" r="2.5" fill="rgba(255,159,64,0.26)" stroke="rgb(255,159,64)" stroke-width="0.9" stroke-opacity="0.85"/><circle cx="177.48" cy="205.35" r="2.5" fill="rgba(255,159,64,0.26)" stroke="rgb(255,159,64)" stroke-width="0.9" stroke-opacity="0.85"/><circle cx="211.45" cy="205.35" r="2.5" fill="rgba(255,159,64,0.26)" stroke="rgb(255,159,64)" stroke-width="0.9" stroke-opacity="0.85"/><circle cx="245.42" cy="205.35" r="2.5" fill="rgba(255,159,64,0.26)" stroke="rgb(255,159,64)" stroke-width="0.9" stroke-opacity="0.85"/><circle cx="279.39" cy="205.35" r="2.5" fill="rgba(255,159,64,0.26)" stroke="rgb(255,159,64)" stroke-width="0.9" stroke-opacity="0.85"/><circle cx="313.36" cy="205.35" r="2.5" fill="rgba(255,159,64,0.26)" stroke="rgb(255,159,64)" stroke-width="0.9" stroke-opacity="0.85"/><circle cx="347.33" cy="205.35" r="2.5" fill="rgba(255,159,64,0.26)" stroke="rgb(255,159,64)" stroke-width="0.9" stroke-opacity="0.85"/><circle cx="381.30" cy="205.35" r="2.5" fill="rgba(255,159,64,0.26)" stroke="rgb(255,159,64)" stroke-width="0.9" stroke-opacity="0.85"/><circle cx="415.27" cy="205.35" r="2.5" fill="rgba(255,159,64,0.26)" stroke="rgb(255,159,64)" stroke-width="0.9" stroke-opacity="0.85"/><circle cx="449.24" cy="205.35" r="2.5" fill="rgba(255,159,64,0.26)" stroke="rgb(255,159,64)" stroke-width="0.9" stroke-opacity="0.85"/><circle cx="483.21" cy="205.35" r="2.5" fill="rgba(255,159,64,0.26)" stroke="rgb(255,159,64)" stroke-width="0.9" stroke-opacity="0.85"/><circle cx="517.18" cy="205.35" r="2.5" fill="rgba(255,159,64,0.26)" stroke="rgb(255,159,64)" stroke-width="0.9" stroke-opacity="0.85"/><circle cx="551.15" cy="205.35" r="2.5" fill="rgba(255,159,64,0.26)" stroke="rgb(255,159,64)" stroke-width="0.9" stroke-opacity="0.85"/><circle cx="585.12" cy="167.99" r="2.5" fill="rgba(255,159,64,0.26)" stroke="rgb(255,159,64)" stroke-width="0.9" stroke-opacity="0.85"/><circle cx="619.09" cy="205.35" r="2.5" fill="rgba(255,159,64,0.26)" stroke="rgb(255,159,64)" stroke-width="0.9" stroke-opacity="0.85"/><circle cx="653.06" cy="205.35" r="2.5" fill="rgba(255,159,64,0.26)" stroke="rgb(255,159,64)" stroke-width="0.9" stroke-opacity="0.85"/><circle cx="687.03" cy="205.35" r="2.5" fill="rgba(255,159,64,0.26)" stroke="rgb(255,159,64)" stroke-width="0.9" stroke-opacity="0.85"/><circle cx="721.00" cy="205.35" r="2.5" fill="rgba(255,159,64,0.26)" stroke="rgb(255,159,64)" stroke-width="0.9" stroke-opacity="0.85"/><circle cx="754.97" cy="205.35" r="2.5" fill="rgba(255,159,64,0.26)" stroke="rgb(255,159,64)" stroke-width="0.9" stroke-opacity="0.85"/><circle cx="788.94" cy="205.35" r="2.5" fill="rgba(255,159,64,0.26)" stroke="rgb(255,159,64)" stroke-width="0.9" stroke-opacity="0.85"/><circle cx="822.91" cy="205.35" r="2.5" fill="rgba(255,159,64,0.26)" stroke="rgb(255,159,64)" stroke-width="0.9" stroke-opacity="0.85"/><path d="M1102.60 818.35 C1116.19 751.93 1122.98 652.30 1136.57 652.30 C1150.16 652.30 1147.90 763.02 1170.54 818.35 C1175.08 818.35 1190.92 818.35 1204.51 818.35 C1218.10 818.35 1224.89 818.35 1238.48 818.35 C1252.07 818.35 1258.86 818.35 1272.45 818.35 C1286.04 818.35 1300.39 818.35 1306.42 818.35 C1327.57 782.82 1326.80 704.19 1340.39 704.19 C1353.98 704.19 1353.21 782.82 1374.36 818.35 C1380.39 818.35 1394.74 818.35 1408.33 818.35 C1421.92 818.35 1428.71 818.35 1442.30 818.35 C1455.89 818.35 1462.68 818.35 1476.27 818.35 C1489.86 818.35 1496.65 818.35 1510.24 818.35 C1523.83 818.35 1530.62 818.35 1544.21 818.35 C1557.80 818.35 1564.59 818.35 1578.18 818.35 C1591.77 818.35 1598.56 818.35 1612.15 818.35 C1625.74 818.35 1632.53 818.35 1646.12 818.35 C1659.71 818.35 1666.50 818.35 1680.09 818.35 C1693.68 818.35 1700.47 818.35 1714.06 818.35 C1727.65 818.35 1734.44 818.35 1748.03 818.35 C1761.62 818.35 1768.41 818.35 1782.00 818.35 C1795.59 818.35 1802.38 818.35 1815.97 818.35 C1829.56 818.35 1836.35 818.35 1849.94 818.35 C1863.53 818.35 1870.32 818.35 1883.91 818.35 L1883.91 818.35 L1102.60 818.35 Z" transform="translate(-1061,-613)" fill="rgba(75,192,192,0.22)"/><path d="M1102.60 818.35 C1116.19 751.93 1122.98 652.30 1136.57 652.30 C1150.16 652.30 1147.90 763.02 1170.54 818.35 C1175.08 818.35 1190.92 818.35 1204.51 818.35 C1218.10 818.35 1224.89 818.35 1238.48 818.35 C1252.07 818.35 1258.86 818.35 1272.45 818.35 C1286.04 818.35 1300.39 818.35 1306.42 818.35 C1327.57 782.82 1326.80 704.19 1340.39 704.19 C1353.98 704.19 1353.21 782.82 1374.36 818.35 C1380.39 818.35 1394.74 818.35 1408.33 818.35 C1421.92 818.35 1428.71 818.35 1442.30 818.35 C1455.89 818.35 1462.68 818.35 1476.27 818.35 C1489.86 818.35 1496.65 818.35 1510.24 818.35 C1523.83 818.35 1530.62 818.35 1544.21 818.35 C1557.80 818.35 1564.59 818.35 1578.18 818.35 C1591.77 818.35 1598.56 818.35 1612.15 818.35 C1625.74 818.35 1632.53 818.35 1646.12 818.35 C1659.71 818.35 1666.50 818.35 1680.09 818.35 C1693.68 818.35 1700.47 818.35 1714.06 818.35 C1727.65 818.35 1734.44 818.35 1748.03 818.35 C1761.62 818.35 1768.41 818.35 1782.00 818.35 C1795.59 818.35 1802.38 818.35 1815.97 818.35 C1829.56 818.35 1836.35 818.35 1849.94 818.35 C1863.53 818.35 1870.32 818.35 1883.91 818.35" transform="translate(-1061,-613)" fill="none" stroke="rgb(75,192,192)" stroke-width="1.3" stroke-opacity="0.85"/><circle cx="41.60" cy="205.35" r="2.5" fill="rgba(75,192,192,0.22)" stroke="rgb(75,192,192)" stroke-width="0.9" stroke-opacity="0.85"/><circle cx="75.57" cy="39.30" r="2.5" fill="rgba(75,192,192,0.22)" stroke="rgb(75,192,192)" stroke-width="0.9" stroke-opacity="0.85"/><circle cx="109.54" cy="205.35" r="2.5" fill="rgba(75,192,192,0.22)" stroke="rgb(75,192,192)" stroke-width="0.9" stroke-opacity="0.85"/><circle cx="143.51" cy="205.35" r="2.5" fill="rgba(75,192,192,0.22)" stroke="rgb(75,192,192)" stroke-width="0.9" stroke-opacity="0.85"/><circle cx="177.48" cy="205.35" r="2.5" fill="rgba(75,192,192,0.22)" stroke="rgb(75,192,192)" stroke-width="0.9" stroke-opacity="0.85"/><circle cx="211.45" cy="205.35" r="2.5" fill="rgba(75,192,192,0.22)" stroke="rgb(75,192,192)" stroke-width="0.9" stroke-opacity="0.85"/><circle cx="245.42" cy="205.35" r="2.5" fill="rgba(75,192,192,0.22)" stroke="rgb(75,192,192)" stroke-width="0.9" stroke-opacity="0.85"/><circle cx="279.39" cy="91.19" r="2.5" fill="rgba(75,192,192,0.22)" stroke="rgb(75,192,192)" stroke-width="0.9" stroke-opacity="0.85"/><circle cx="313.36" cy="205.35" r="2.5" fill="rgba(75,192,192,0.22)" stroke="rgb(75,192,192)" stroke-width="0.9" stroke-opacity="0.85"/><circle cx="347.33" cy="205.35" r="2.5" fill="rgba(75,192,192,0.22)" stroke="rgb(75,192,192)" stroke-width="0.9" stroke-opacity="0.85"/><circle cx="381.30" cy="205.35" r="2.5" fill="rgba(75,192,192,0.22)" stroke="rgb(75,192,192)" stroke-width="0.9" stroke-opacity="0.85"/><circle cx="415.27" cy="205.35" r="2.5" fill="rgba(75,192,192,0.22)" stroke="rgb(75,192,192)" stroke-width="0.9" stroke-opacity="0.85"/><circle cx="449.24" cy="205.35" r="2.5" fill="rgba(75,192,192,0.22)" stroke="rgb(75,192,192)" stroke-width="0.9" stroke-opacity="0.85"/><circle cx="483.21" cy="205.35" r="2.5" fill="rgba(75,192,192,0.22)" stroke="rgb(75,192,192)" stroke-width="0.9" stroke-opacity="0.85"/><circle cx="517.18" cy="205.35" r="2.5" fill="rgba(75,192,192,0.22)" stroke="rgb(75,192,192)" stroke-width="0.9" stroke-opacity="0.85"/><circle cx="551.15" cy="205.35" r="2.5" fill="rgba(75,192,192,0.22)" stroke="rgb(75,192,192)" stroke-width="0.9" stroke-opacity="0.85"/><circle cx="585.12" cy="205.35" r="2.5" fill="rgba(75,192,192,0.22)" stroke="rgb(75,192,192)" stroke-width="0.9" stroke-opacity="0.85"/><circle cx="619.09" cy="205.35" r="2.5" fill="rgba(75,192,192,0.22)" stroke="rgb(75,192,192)" stroke-width="0.9" stroke-opacity="0.85"/><circle cx="653.06" cy="205.35" r="2.5" fill="rgba(75,192,192,0.22)" stroke="rgb(75,192,192)" stroke-width="0.9" stroke-opacity="0.85"/><circle cx="687.03" cy="205.35" r="2.5" fill="rgba(75,192,192,0.22)" stroke="rgb(75,192,192)" stroke-width="0.9" stroke-opacity="0.85"/><circle cx="721.00" cy="205.35" r="2.5" fill="rgba(75,192,192,0.22)" stroke="rgb(75,192,192)" stroke-width="0.9" stroke-opacity="0.85"/><circle cx="754.97" cy="205.35" r="2.5" fill="rgba(75,192,192,0.22)" stroke="rgb(75,192,192)" stroke-width="0.9" stroke-opacity="0.85"/><circle cx="788.94" cy="205.35" r="2.5" fill="rgba(75,192,192,0.22)" stroke="rgb(75,192,192)" stroke-width="0.9" stroke-opacity="0.85"/><circle cx="822.91" cy="205.35" r="2.5" fill="rgba(75,192,192,0.22)" stroke="rgb(75,192,192)" stroke-width="0.9" stroke-opacity="0.85"/><rect x="359.29999999999995" y="22.5" width="30.3" height="8.6" fill="rgba(75,192,192,0.2)" stroke="rgb(75,192,192)" stroke-width="1"/><text x="394" y="30" font-family="Liberation Sans" font-size="9" fill="#666">Loja 1</text><rect x="426" y="22.5" width="30.3" height="8.6" fill="rgba(255,159,64,0.2)" stroke="rgb(255,159,64)" stroke-width="1"/><text x="460.9000000000001" y="30" font-family="Liberation Sans" font-size="9" fill="#666">Loja 2</text></svg>
</div></body></html>
